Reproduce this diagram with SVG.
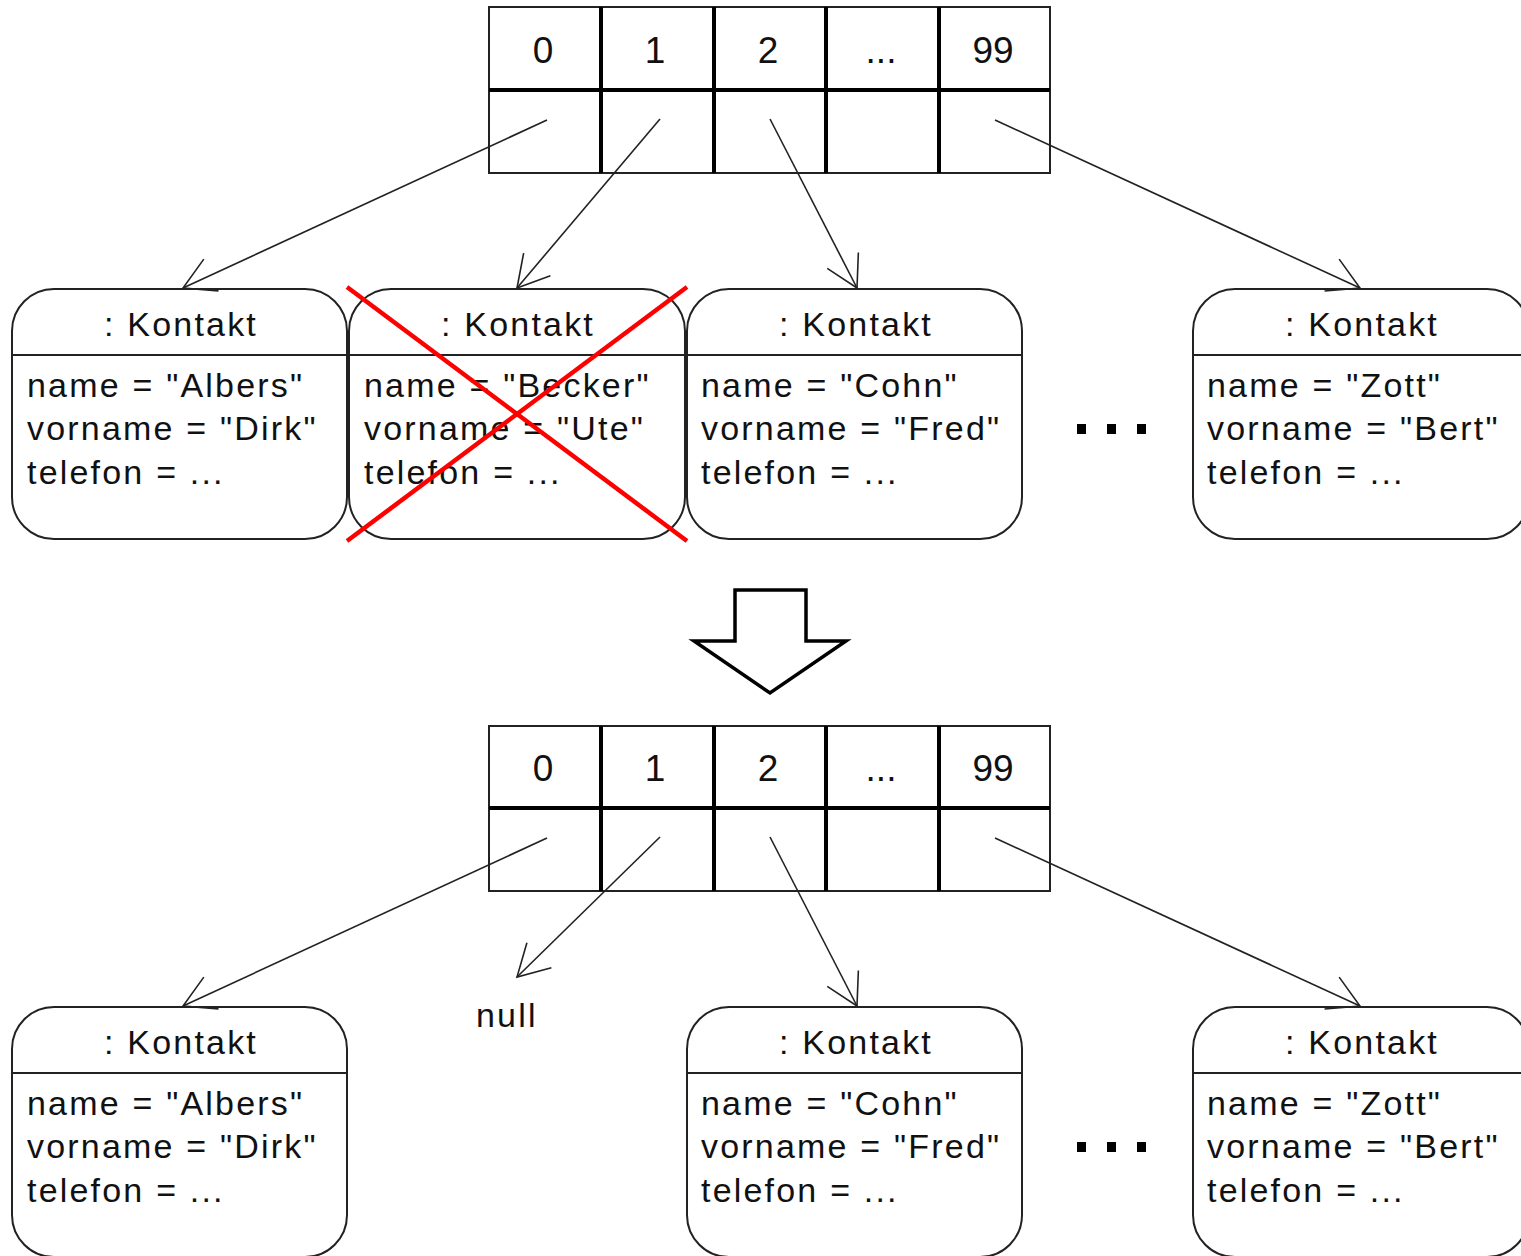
<svg xmlns="http://www.w3.org/2000/svg" width="1521" height="1256" viewBox="0 0 1521 1256">
<defs>
<style>
.t{font-family:"Liberation Sans",Arial,sans-serif;font-size:34px;letter-spacing:2.2px;fill:#111}
.h{text-anchor:middle}
.idx{font-family:"Liberation Sans",Arial,sans-serif;font-size:37px;fill:#111;text-anchor:middle}
.box{fill:#fff;stroke:#222;stroke-width:2}
.div{stroke:#222;stroke-width:2}
.thick{stroke:#000;stroke-width:4}
.con{fill:none;stroke:#222;stroke-width:1.6;marker-end:url(#open)}
.dot{fill:#000}
.cross{stroke:#ff0000;stroke-width:4.5;stroke-linecap:butt}
</style>
<marker id="open" markerUnits="userSpaceOnUse" markerWidth="40" markerHeight="40" viewBox="-35 -20 40 40" refX="0" refY="0" orient="auto">
<path d="M-31,-17.5 L0,0 L-31,17.5" fill="none" stroke="#222" stroke-width="1.6"/>
</marker>
</defs>

<!-- Top array -->
<g id="array-top">
<rect x="489" y="7" width="561" height="166" fill="#fff" stroke="#222" stroke-width="2"/>
<line class="thick" x1="489" y1="90" x2="1050" y2="90"/>
<line class="thick" x1="601" y1="7" x2="601" y2="173"/>
<line class="thick" x1="714" y1="7" x2="714" y2="173"/>
<line class="thick" x1="826" y1="7" x2="826" y2="173"/>
<line class="thick" x1="939" y1="7" x2="939" y2="173"/>
<text class="idx" x="543" y="63">0</text>
<text class="idx" x="655" y="63">1</text>
<text class="idx" x="768" y="63">2</text>
<text class="idx" x="881" y="63">...</text>
<text class="idx" x="993" y="63">99</text>
</g>

<g id="node-albers-top">
<rect class="box" x="12" y="289" width="335" height="250" rx="42" ry="42"/>
<line class="div" x1="12" y1="355" x2="347" y2="355"/>
<text class="t h" x="181" y="336">: Kontakt</text>
<text class="t" x="27" y="397">name = "Albers"</text>
<text class="t" x="27" y="440">vorname = "Dirk"</text>
<text class="t" x="27" y="484">telefon = ...</text>
</g>

<g id="node-becker-top">
<rect class="box" x="349" y="289" width="336" height="250" rx="42" ry="42"/>
<line class="div" x1="349" y1="355" x2="685" y2="355"/>
<text class="t h" x="518" y="336">: Kontakt</text>
<text class="t" x="364" y="397">name = "Becker"</text>
<text class="t" x="364" y="440">vorname = "Ute"</text>
<text class="t" x="364" y="484">telefon = ...</text>
</g>

<g id="node-cohn-top">
<rect class="box" x="687" y="289" width="335" height="250" rx="42" ry="42"/>
<line class="div" x1="687" y1="355" x2="1022" y2="355"/>
<text class="t h" x="856" y="336">: Kontakt</text>
<text class="t" x="701" y="397">name = "Cohn"</text>
<text class="t" x="701" y="440">vorname = "Fred"</text>
<text class="t" x="701" y="484">telefon = ...</text>
</g>

<g id="dots-top">
<rect class="dot" x="1077" y="424" width="9" height="10"/>
<rect class="dot" x="1107" y="424" width="9" height="10"/>
<rect class="dot" x="1137" y="424" width="9" height="10"/>
</g>

<g id="node-zott-top">
<rect class="box" x="1193" y="289" width="336" height="250" rx="42" ry="42"/>
<line class="div" x1="1193" y1="355" x2="1529" y2="355"/>
<text class="t h" x="1362" y="336">: Kontakt</text>
<text class="t" x="1207" y="397">name = "Zott"</text>
<text class="t" x="1207" y="440">vorname = "Bert"</text>
<text class="t" x="1207" y="484">telefon = ...</text>
</g>

<g id="cross">
<line class="cross" x1="347" y1="287" x2="687" y2="541"/>
<line class="cross" x1="687" y1="287" x2="347" y2="541"/>
</g>

<g id="big-arrow">
<polygon points="735,590 806,590 806,641 846,641 770,693 694,641 735,641" fill="#fff" stroke="#000" stroke-width="3.5" stroke-linejoin="miter"/>
</g>

<!-- Bottom array -->
<g id="array-bottom">
<rect x="489" y="726" width="561" height="165" fill="#fff" stroke="#222" stroke-width="2"/>
<line class="thick" x1="489" y1="808" x2="1050" y2="808"/>
<line class="thick" x1="601" y1="726" x2="601" y2="891"/>
<line class="thick" x1="714" y1="726" x2="714" y2="891"/>
<line class="thick" x1="826" y1="726" x2="826" y2="891"/>
<line class="thick" x1="939" y1="726" x2="939" y2="891"/>
<text class="idx" x="543" y="781">0</text>
<text class="idx" x="655" y="781">1</text>
<text class="idx" x="768" y="781">2</text>
<text class="idx" x="881" y="781">...</text>
<text class="idx" x="993" y="781">99</text>
</g>

<g id="node-albers-bottom">
<rect class="box" x="12" y="1007" width="335" height="250" rx="42" ry="42"/>
<line class="div" x1="12" y1="1073" x2="347" y2="1073"/>
<text class="t h" x="181" y="1054">: Kontakt</text>
<text class="t" x="27" y="1115">name = "Albers"</text>
<text class="t" x="27" y="1158">vorname = "Dirk"</text>
<text class="t" x="27" y="1202">telefon = ...</text>
</g>

<g id="null-label">
<text class="t" x="476" y="1027">null</text>
</g>

<g id="node-cohn-bottom">
<rect class="box" x="687" y="1007" width="335" height="250" rx="42" ry="42"/>
<line class="div" x1="687" y1="1073" x2="1022" y2="1073"/>
<text class="t h" x="856" y="1054">: Kontakt</text>
<text class="t" x="701" y="1115">name = "Cohn"</text>
<text class="t" x="701" y="1158">vorname = "Fred"</text>
<text class="t" x="701" y="1202">telefon = ...</text>
</g>

<g id="dots-bottom">
<rect class="dot" x="1077" y="1142" width="9" height="10"/>
<rect class="dot" x="1107" y="1142" width="9" height="10"/>
<rect class="dot" x="1137" y="1142" width="9" height="10"/>
</g>

<g id="node-zott-bottom">
<rect class="box" x="1193" y="1007" width="336" height="250" rx="42" ry="42"/>
<line class="div" x1="1193" y1="1073" x2="1529" y2="1073"/>
<text class="t h" x="1362" y="1054">: Kontakt</text>
<text class="t" x="1207" y="1115">name = "Zott"</text>
<text class="t" x="1207" y="1158">vorname = "Bert"</text>
<text class="t" x="1207" y="1202">telefon = ...</text>
</g>

<g id="connectors">
<line class="con" x1="547" y1="120" x2="183" y2="288"/>
<line class="con" x1="660" y1="119" x2="517" y2="288"/>
<line class="con" x1="770" y1="119" x2="857" y2="288"/>
<line class="con" x1="995" y1="120" x2="1360" y2="288"/>
<line class="con" x1="547" y1="838" x2="183" y2="1006"/>
<line class="con" x1="660" y1="837" x2="517" y2="977"/>
<line class="con" x1="770" y1="837" x2="857" y2="1006"/>
<line class="con" x1="995" y1="838" x2="1360" y2="1006"/>
</g>
</svg>
